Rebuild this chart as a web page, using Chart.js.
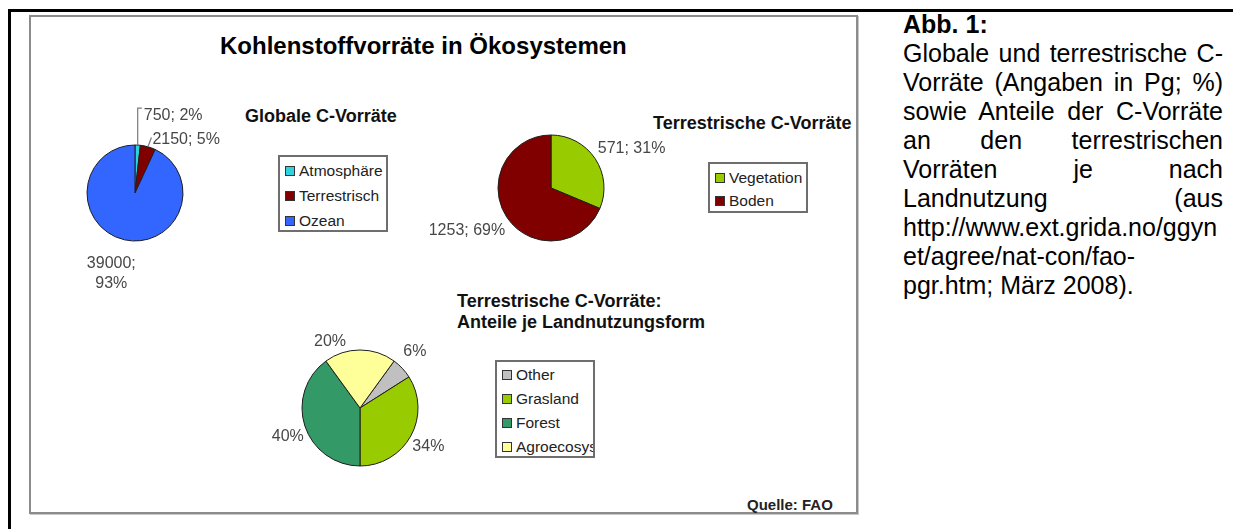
<!DOCTYPE html>
<html lang="de">
<head>
<meta charset="UTF-8">
<title>Kohlenstoffvorräte in Ökosystemen</title>
<script src="https://cdn.jsdelivr.net/npm/chart.js"></script>
<style>
    body { margin: 0; width: 1233px; height: 529px; overflow: hidden; background: #fff;
           font-family: "Liberation Sans", Arial, sans-serif; position: relative; }
    .abs { position: absolute; }
    #outer { left: 8px; top: 9px; width: 1300px; height: 600px; border-top: 3px solid #000; border-left: 3px solid #000; }
    #frame { left: 29px; top: 15px; width: 829px; height: 499px; box-sizing: border-box;
             border: 2px solid #8c8c8c; box-shadow: 1px 1px 0 #c8c8c8; }
    .title { font-weight: bold; font-size: 24px; color: #000; white-space: nowrap; }
    .sub { font-weight: bold; font-size: 18px; color: #111; white-space: nowrap; line-height: 21px; }
    .legend { box-sizing: border-box; border: 2px solid #6e6e6e; background: #fff; overflow: hidden;
              font-size: 15.5px; color: #222; white-space: nowrap; }
    .legend .row { display: flex; align-items: center; }
    .legend .mk { width: 8px; height: 8px; border: 1px solid #333; margin-right: 4px; flex: none; }
    #caption { left: 903px; top: 10px; width: 320px; font-size: 25px; line-height: 29px; color: #000; }
    #caption div { text-align: justify; text-align-last: justify; white-space: nowrap; }
    #caption div.l { text-align: left; text-align-last: left; }
    canvas { position: absolute; }
</style>
</head>
<body>
<div id="outer" class="abs"></div>
<div id="frame" class="abs"></div>

<div class="abs title" style="left:220px; top:32px;">Kohlenstoffvorräte in Ökosystemen</div>
<div class="abs sub" style="left:245px; top:106px;">Globale C-Vorräte</div>
<div class="abs sub" style="left:653px; top:113px;">Terrestrische C-Vorräte</div>
<div class="abs sub" style="left:457px; top:291px;">Terrestrische C-Vorräte:<br>Anteile je Landnutzungsform</div>
<div class="abs" style="left:747px; top:496px; font-size:15px; font-weight:bold; color:#222;">Quelle: FAO</div>

<div id="legend1" class="abs legend" style="left:278px; top:155px; width:110px; height:77px; padding-top:1px;"></div>
<div id="legend2" class="abs legend" style="left:708px; top:162px; width:100px; height:51px; padding-top:2px;"></div>
<div id="legend3" class="abs legend" style="left:495px; top:360px; width:100px; height:98px; padding-top:1px;"></div>

<canvas id="pie1" width="230" height="240" style="left:20px; top:73px;"></canvas>
<canvas id="pie2" width="280" height="200" style="left:411px; top:88px;"></canvas>
<canvas id="pie3" width="240" height="180" style="left:240px; top:318px;"></canvas>

<div id="caption" class="abs">
    <div class="l"><b>Abb. 1:</b></div>
    <div>Globale und terrestrische C-</div>
    <div>Vorräte (Angaben in Pg; %)</div>
    <div>sowie Anteile der C-Vorräte</div>
    <div>an den terrestrischen</div>
    <div>Vorräten je nach</div>
    <div>Landnutzung (aus</div>
    <div class="l">http://www.ext.grida.no/ggyn</div>
    <div class="l">et/agree/nat-con/fao-</div>
    <div class="l">pgr.htm; März 2008).</div>
</div>

<script>
    // Globale C-Vorräte (Pg)
    const globalLabels = ['Atmosphäre', 'Terrestrisch', 'Ozean'];
    const globalValues = [750, 2150, 39000];
    const globalColors = ['#2fd3e0', '#800000', '#3366ff'];

    // Terrestrische C-Vorräte (Pg)
    const terrLabels = ['Vegetation', 'Boden'];
    const terrValues = [571, 1253];
    const terrColors = ['#99cc00', '#800000'];

    // Anteile je Landnutzungsform (%)
    const landLabels = ['Other', 'Grasland', 'Forest', 'Agroecosystems'];
    const landValues = [6, 34, 40, 20];
    const landColors = ['#c0c0c0', '#99cc00', '#339966', '#ffff99'];

    function pct(values) {
        const sum = values.reduce((a, b) => a + b, 0);
        return values.map(v => Math.round(v / sum * 100));
    }

    // Beschriftung der Segmente (Position aus dem Winkel des Segments)
    const sliceLabels = {
        id: 'sliceLabels',
        afterDatasetsDraw(chart, args, opts) {
            const ctx = chart.ctx;
            const arcs = chart.getDatasetMeta(0).data;
            ctx.save();
            ctx.font = '16px "Liberation Sans", Arial, sans-serif';
            ctx.textBaseline = 'middle';
            arcs.forEach((arc, i) => {
                const p = arc.getProps(['x', 'y', 'startAngle', 'endAngle', 'outerRadius'], true);
                const mid = (p.startAngle + p.endAngle) / 2;
                const d = p.outerRadius + opts.gap;
                const lx = p.x + Math.cos(mid) * d + opts.dx[i];
                const ly = p.y + Math.sin(mid) * d + opts.dy[i];
                if (opts.leader && opts.leader[i]) {
                    const ex = p.x + Math.cos(mid) * p.outerRadius;
                    const ey = p.y + Math.sin(mid) * p.outerRadius;
                    ctx.strokeStyle = '#7a7a7a';
                    ctx.lineWidth = 1.2;
                    ctx.beginPath();
                    ctx.moveTo(ex, ey);
                    if (opts.leader[i] === 'up') {
                        ctx.lineTo(ex, ly - 7);
                        ctx.lineTo(lx - 2, ly - 7);
                    } else {
                        ctx.lineTo(lx - 1, ly - 2);
                    }
                    ctx.stroke();
                }
                ctx.fillStyle = '#474747';
                ctx.textAlign = opts.align[i];
                const lines = opts.text[i];
                lines.forEach((t, k) => ctx.fillText(t, lx, ly + (k - (lines.length - 1) / 2) * 20));
            });
            ctx.restore();
        }
    };

    function makePie(id, labels, values, colors, radius, rotation, labelOpts) {
        return new Chart(document.getElementById(id), {
            type: 'pie',
            data: {
                labels: labels,
                datasets: [{
                    data: values,
                    backgroundColor: colors,
                    borderColor: '#1e1e1e',
                    borderWidth: 1,
                    radius: radius
                }]
            },
            options: {
                responsive: false,
                animation: false,
                rotation: rotation,
                layout: { padding: 0 },
                plugins: {
                    legend: { display: false },
                    tooltip: { enabled: false },
                    sliceLabels: labelOpts
                }
            },
            plugins: [sliceLabels]
        });
    }

    function makeLegend(id, labels, colors, rowHeight) {
        const box = document.getElementById(id);
        labels.forEach((name, i) => {
            const row = document.createElement('div');
            row.className = 'row';
            row.style.height = rowHeight + 'px';
            row.style.paddingLeft = '5px';
            row.innerHTML = '<span class="mk" style="background:' + colors[i] + '"></span><span>' + name + '</span>';
            box.appendChild(row);
        });
    }

    const p1 = pct(globalValues);
    makePie('pie1', globalLabels, globalValues, globalColors, 48, 0, {
        gap: 20,
        dx: [5, -1, -9],
        dy: [-10, 12, 14],
        align: ['left', 'left', 'center'],
        leader: ['up', 'short', null],
        text: globalValues.map((v, i) => i === 2 ? [v + ';', p1[i] + '%'] : [v + '; ' + p1[i] + '%'])
    });

    const p2 = pct(terrValues);
    makePie('pie2', terrLabels, terrValues, terrColors, 53, 0, {
        gap: 20,
        dx: [-14, 15],
        dy: [1, 2],
        align: ['left', 'right'],
        text: terrValues.map((v, i) => [v + '; ' + p2[i] + '%'])
    });

    makePie('pie3', landLabels, landValues, landColors, 58, 36, {
        gap: 20,
        dx: [-2, 0, 2, -30],
        dy: [-3, 1, 4, 12],
        align: ['center', 'center', 'center', 'center'],
        text: landValues.map(v => [v + '%'])
    });

    makeLegend('legend1', globalLabels, globalColors, 25);
    makeLegend('legend2', terrLabels, terrColors, 23);
    makeLegend('legend3', landLabels, landColors, 24);
</script>
</body>
</html>
